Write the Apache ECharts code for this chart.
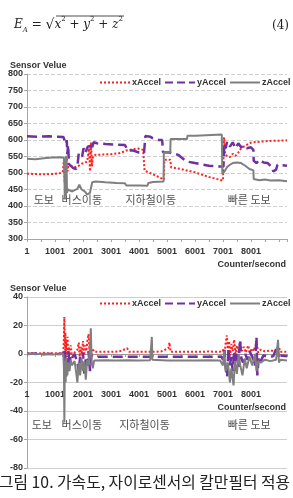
<!DOCTYPE html>
<html>
<head>
<meta charset="utf-8">
<script src="https://cdn.jsdelivr.net/npm/echarts@6/dist/echarts.min.js"></script>
<style>
html, body { margin: 0; padding: 0; background: #fff; }
#chart { width: 293px; height: 498px; }
</style>
</head>
<body>
<div id="chart"></div>
<script>
const seriesNames = ['xAccel', 'yAccel', 'zAccel']
const seriesColors = ['#ff2020', '#7030a0', '#7f7f7f']
const lineTypes = ['dotted', 'dashed', 'solid']

// 위 그래프: 센서 원시값 (counter, value)
const topX = [[1,498],[300,497],[600,496],[900,497],[1200,500],[1280,503],[1320,540],[1345,470],[1370,548],[1395,495],[1420,545],[1450,505],[1480,530],[1560,522],[1650,520],[1750,518],[1850,522],[1950,528],[2050,530],[2150,535],[2220,575],[2250,505],[2290,593],[2320,520],[2360,552],[2450,555],[2700,556],[3000,557],[3300,560],[3550,568],[3800,572],[4000,574],[4150,570],[4200,507],[4400,500],[4600,492],[4800,484],[4890,480],[4910,540],[5120,540],[5150,517],[5500,512],[6000,502],[6500,488],[7000,477],[7040,608],[7080,555],[7150,560],[7250,548],[7350,558],[7450,552],[7550,562],[7650,575],[7750,580],[7850,585],[8000,592],[8200,594],[8500,596],[8800,598],[9000,598],[9290,599]]
const topY = [[1,611],[400,610],[800,611],[1100,610],[1300,609],[1390,588],[1420,600],[1440,557],[1470,585],[1500,527],[1570,525],[1650,515],[1750,512],[1800,520],[1850,560],[1920,565],[1970,550],[2020,575],[2080,560],[2170,580],[2250,582],[2300,570],[2380,593],[2500,590],[2800,588],[3200,586],[3500,585],[3600,568],[3800,568],[4000,562],[4180,560],[4230,612],[4400,610],[4500,605],[4700,600],[4830,600],[4860,563],[5100,562],[5400,555],[5700,535],[6000,530],[6200,527],[6500,522],[6800,520],[7020,520],[7050,590],[7100,575],[7150,595],[7250,580],[7350,593],[7450,575],[7550,590],[7650,578],[7750,583],[7850,575],[8000,578],[8090,570],[8100,537],[8200,530],[8300,540],[8450,532],[8600,530],[8750,518],[8800,505],[8900,510],[8950,525],[9290,522]]
const topZ = [[1,543],[300,542],[600,545],[900,547],[1200,548],[1300,547],[1330,540],[1350,420],[1370,545],[1390,430],[1410,552],[1430,440],[1460,450],[1500,445],[1600,444],[1700,448],[1800,452],[1870,465],[1950,450],[2050,445],[2150,435],[2250,440],[2330,472],[2450,474],[2800,472],[3200,470],[3500,469],[3550,462],[4000,462],[4300,461],[4340,470],[4500,473],[4880,474],[4890,562],[5120,562],[5130,603],[5720,603],[5730,613],[6020,613],[6030,618],[6960,617],[6980,497],[7060,505],[7150,518],[7250,525],[7350,530],[7500,532],[7650,530],[7800,522],[7950,512],[8090,508],[8100,482],[8300,478],[8500,480],[8700,477],[9000,478],[9290,475]]

// 아래 그래프: 칼만필터 적용 후
const botX = [[1,0.5],[200,0.6],[400,0.3],[600,0.8],[800,0.4],[1000,0.5],[1200,0.6],[1300,1],[1320,12],[1335,26],[1350,3],[1370,15],[1390,2],[1410,10],[1430,-2],[1450,12],[1470,1],[1500,5],[1530,-1],[1560,6],[1600,0],[1700,1],[1800,3],[1850,8],[1880,-2],[1920,5],[1960,0],[2000,9],[2040,-1],[2080,6],[2120,2],[2160,10],[2200,14],[2230,3],[2260,8],[2300,-1],[2340,4],[2400,1.5],[2700,1.6],[3000,1.5],[3300,1.8],[3580,4],[3650,1.5],[4000,1.6],[4500,1.5],[4800,1.8],[5050,4],[5090,8],[5130,1.5],[5500,1.6],[6000,1.5],[6500,1.7],[6900,1.6],[7000,3],[7050,-2],[7100,8],[7140,13],[7180,2],[7220,9],[7260,-1],[7300,7],[7350,2],[7400,10],[7450,0],[7500,6],[7560,1],[7620,8],[7680,2],[7750,5],[7820,1],[7900,6],[7960,1],[8050,4],[8100,2],[8200,8],[8260,1],[8350,3],[8500,1.8],[8700,2.5],[8900,1.6],[9000,5],[9050,1.5],[9290,1.6]]
const botY = [[1,0],[300,0.3],[600,-0.2],[900,0.2],[1200,0],[1300,0.5],[1330,-5],[1360,3],[1390,-16],[1420,-2],[1450,-12],[1480,2],[1520,-8],[1560,-1],[1600,-3],[1700,0],[1800,-6],[1850,-12],[1900,-2],[1950,-10],[2000,1],[2050,-14],[2100,-3],[2150,-8],[2200,2],[2250,-12],[2300,-1],[2400,-2],[2600,-2],[3000,-1.9],[3500,-2],[4000,-1.9],[4500,-2],[5000,-2],[5500,-1.9],[6000,-2],[6500,-2],[6950,-1.8],[7000,-4],[7050,3],[7100,-10],[7150,-16],[7200,4],[7250,-8],[7300,-2],[7350,-12],[7400,2],[7450,-6],[7500,0],[7560,-9],[7610,10],[7660,-3],[7720,-6],[7800,0],[7880,-4],[7950,2],[8050,-2],[8150,-8],[8200,12],[8230,-15],[8280,-2],[8350,-5],[8450,-1],[8600,-2],[8800,-1.5],[8950,6],[9000,-3],[9050,-1],[9290,-1.5]]
const botZ = [[1,0],[200,0.2],[250,1.5],[300,-0.2],[600,0.1],[900,-0.3],[1200,0],[1300,0],[1320,-10],[1335,-48],[1350,-5],[1380,-20],[1400,-3],[1440,-15],[1480,-6],[1520,-12],[1560,-4],[1600,-8],[1700,-5],[1750,-12],[1800,-20],[1850,-6],[1900,-15],[1950,-3],[2000,-12],[2050,-5],[2100,-18],[2150,-4],[2200,-8],[2250,5],[2280,18],[2310,-6],[2350,-10],[2400,-4.5],[2800,-4.3],[3200,-4.5],[3600,-4.4],[4000,-4.5],[4400,-4.3],[4460,12],[4480,-4],[5000,-4.5],[5500,-4.6],[6000,-4.5],[6500,-4.4],[6900,-4.5],[7000,-8],[7050,2],[7100,-12],[7180,-6],[7250,-20],[7300,-10],[7380,-22],[7430,-5],[7500,-14],[7560,0],[7620,-8],[7700,-15],[7780,-3],[7850,-10],[7950,-2],[8050,-8],[8150,0],[8200,-12],[8260,-5],[8350,-6],[8500,-4],[8700,-5],[8900,-4],[8970,10],[9000,-6],[9050,-4],[9290,-4.5]]

// 이동 구간 표시
const phaseNames = ['도보', '버스이동', '지하철이동', '빠른 도보']
const topPhaseAt = [600, 1960, 4420, 7940]
const botPhaseAt = [530, 1960, 4200, 7940]
const topPhaseValue = 418
const botPhaseValue = -50

const font = '"Liberation Sans", Arial, sans-serif'
const krFont = '"Noto Sans CJK KR", sans-serif'
const axisGray = '#a6a6a6'
const labelStyle = { fontSize: 9, fontWeight: 'bold', color: '#333', fontFamily: font }

const chart = echarts.init(document.getElementById('chart'))

function xAxisFor (gridIndex, offset, labelMargin, namePad, showLine) {
  return {
    type: 'value',
    gridIndex,
    position: 'bottom',
    offset,
    min: 0,
    max: 9290,
    interval: 1000,
    name: 'Counter/second',
    nameLocation: 'end',
    nameGap: -1,
    nameTextStyle: Object.assign({ align: 'right', verticalAlign: 'top', padding: [namePad, 0, 0, 0] }, labelStyle),
    axisLine: { show: showLine, onZero: false, lineStyle: { color: axisGray } },
    axisTick: { show: showLine, length: 3, lineStyle: { color: axisGray } },
    minorTick: { show: showLine, splitNumber: 2, length: 3, lineStyle: { color: axisGray } },
    splitLine: { show: false },
    axisLabel: Object.assign({
      margin: labelMargin,
      formatter: v => (v >= 9000 ? '' : String(v + 1))
    }, labelStyle)
  }
}

// 아래 그래프의 0 기준선 (눈금만)
const zeroAxis = {
  type: 'value',
  gridIndex: 1,
  position: 'bottom',
  offset: -114,
  min: 0,
  max: 9290,
  interval: 1000,
  axisLine: { show: true, onZero: false, lineStyle: { color: '#999' } },
  axisTick: { show: true, length: 3, lineStyle: { color: '#999' } },
  minorTick: { show: true, splitNumber: 2, length: 3, lineStyle: { color: '#999' } },
  splitLine: { show: false },
  axisLabel: { show: false }
}

function yAxisFor (gridIndex, min, max, interval, splitType) {
  return {
    type: 'value',
    gridIndex,
    min,
    max,
    interval,
    name: 'Sensor Velue',
    nameLocation: 'end',
    nameGap: 3,
    nameTextStyle: Object.assign({ align: 'left', padding: [0, 0, 0, -17] }, labelStyle),
    axisLine: { show: true, lineStyle: { color: axisGray } },
    axisTick: { show: true, length: 3, lineStyle: { color: axisGray } },
    splitLine: { show: true, lineStyle: { color: '#cfcfcf', type: splitType } },
    axisLabel: Object.assign({ margin: 4 }, labelStyle)
  }
}

function lineSeries (name, idx, data, xIndex, yIndex) {
  return {
    name,
    type: 'line',
    xAxisIndex: xIndex,
    yAxisIndex: yIndex,
    data,
    showSymbol: false,
    symbol: 'none',
    silent: true,
    lineStyle: { color: seriesColors[idx], width: idx === 1 ? 2.5 : 2, type: lineTypes[idx] },
    itemStyle: { color: seriesColors[idx] }
  }
}

function phaseSeries (positions, value, xIndex, yIndex) {
  return {
    type: 'scatter',
    xAxisIndex: xIndex,
    yAxisIndex: yIndex,
    symbolSize: 0,
    silent: true,
    data: phaseNames.map((n, i) => ({ name: n, value: [positions[i], value] })),
    label: { show: true, position: 'inside', formatter: '{b}', fontSize: 11, color: '#222', fontFamily: krFont }
  }
}

const legendBase = {
  data: seriesNames,
  left: 99,
  width: 194,
  itemWidth: 30,
  itemHeight: 8,
  itemGap: 3,
  padding: 0,
  itemStyle: { opacity: 0 },
  textStyle: Object.assign({ padding: [0, 0, 0, -3] }, labelStyle)
}

const option = {
  animation: false,
  backgroundColor: '#fff',
  grid: [
    { left: 27, right: 6, top: 74, height: 165, outerBoundsMode: 'none' },
    { left: 27, right: 6, top: 297, height: 171, outerBoundsMode: 'none' }
  ],
  legend: [
    Object.assign({}, legendBase, { top: 78 }),
    Object.assign({}, legendBase, { top: 299 })
  ],
  xAxis: [xAxisFor(0, 0, 8, 21, true), xAxisFor(1, -83, 5, 18, false), zeroAxis],
  yAxis: [yAxisFor(0, 300, 800, 50, 'dashed'), yAxisFor(1, -80, 40, 20, 'solid')],
  series: [
    lineSeries('xAccel', 0, topX, 0, 0),
    lineSeries('yAccel', 1, topY, 0, 0),
    lineSeries('zAccel', 2, topZ, 0, 0),
    lineSeries('xAccel', 0, botX, 1, 1),
    lineSeries('yAccel', 1, botY, 1, 1),
    lineSeries('zAccel', 2, botZ, 1, 1),
    phaseSeries(topPhaseAt, topPhaseValue, 0, 0),
    phaseSeries(botPhaseAt, botPhaseValue, 1, 1)
  ],
  graphic: [
    {
      type: 'text',
      left: 14,
      top: 16,
      style: {
        text: '{i|E}{sub|A}{n| = }{r|√}{i|x}{sup|2}{n| + }{i|y}{sup|2}{n| + }{i|z}{sup|2}',
        rich: {
          i: { fontFamily: '"DejaVu Serif", serif', fontStyle: 'italic', fontSize: 12, lineHeight: 18, verticalAlign: 'middle', fill: '#222' },
          n: { fontFamily: '"DejaVu Serif", serif', fontSize: 12, lineHeight: 18, verticalAlign: 'middle', fill: '#222' },
          r: { fontFamily: '"DejaVu Serif", serif', fontSize: 14, lineHeight: 18, verticalAlign: 'middle', fill: '#222' },
          sub: { fontFamily: '"DejaVu Serif", serif', fontStyle: 'italic', fontSize: 7, lineHeight: 7, verticalAlign: 'bottom', fill: '#222' },
          sup: { fontFamily: '"DejaVu Serif", serif', fontSize: 7, lineHeight: 7, verticalAlign: 'top', fill: '#222' }
        }
      }
    },
    {
      type: 'line',
      shape: { x1: 56, y1: 16, x2: 124, y2: 16 },
      style: { stroke: '#222', lineWidth: 0.8 }
    },
    {
      type: 'text',
      left: 272,
      top: 20,
      style: { text: '(4)', font: '12px "DejaVu Serif", serif', fill: '#222' }
    },
    {
      type: 'text',
      left: -1,
      top: 474,
      style: { text: '그림 10. 가속도, 자이로센서의 칼만필터 적용', font: '15.8px "Noto Sans CJK KR", sans-serif', fill: '#222' }
    }
  ]
}

chart.setOption(option)
</script>
</body>
</html>
